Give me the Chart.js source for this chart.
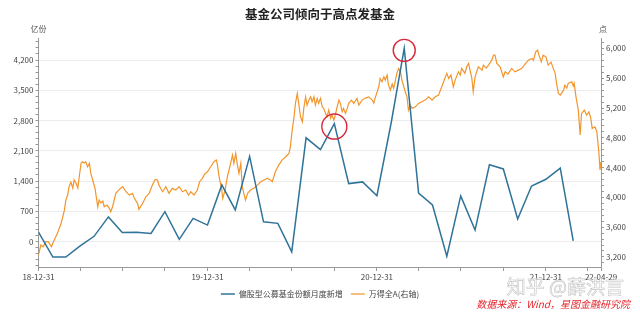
<!DOCTYPE html>
<html lang="zh">
<head>
<meta charset="UTF-8">
<title>基金公司倾向于高点发基金</title>
<style>
  body { margin: 0; background: #ffffff; }
  #wrap { position: relative; width: 640px; height: 314px; }
</style>
</head>
<body>
<div id="wrap"><canvas id="chartCanvas"></canvas></div>

<script src="https://cdn.jsdelivr.net/npm/chart.js@4.4.1/dist/chart.umd.min.js"></script>
<script>
// monthly new shares of equity-biased public funds (亿份), month-end
const blueMonths = [
  '2018-12', '2019-01', '2019-02', '2019-03', '2019-04', '2019-05', '2019-06', '2019-07', '2019-08', '2019-09', '2019-10', '2019-11',
  '2019-12', '2020-01', '2020-02', '2020-03', '2020-04', '2020-05', '2020-06', '2020-07', '2020-08', '2020-09', '2020-10', '2020-11',
  '2020-12', '2021-01', '2021-02', '2021-03', '2021-04', '2021-05', '2021-06', '2021-07', '2021-08', '2021-09', '2021-10', '2021-11',
  '2021-12', '2022-01', '2022-02'
];
const blueVals = [
  220, -360, -360, -100, 120, 570, 210, 215, 185, 690, 50, 535,
  380, 1310, 730, 1970, 455, 420, -240, 2400, 2125, 2730, 1340, 1380,
  1060, 2760, 4470, 1120, 845, -340, 1055, 265, 1775, 1680, 520, 1285,
  1440, 1700, 15
];

// Wind All A index (right axis): days after 2018-12-31 and index level
const orangeDays = [
  0, 5, 10, 16, 21, 28, 34, 41, 49, 56,
  59, 63, 66, 70, 74, 77, 81, 85, 88, 92,
  95, 99, 102, 106, 110, 113, 117, 122, 128, 131,
  135, 139, 142, 148, 153, 156, 160, 167, 173, 178,
  182, 189, 196, 203, 207, 214, 217, 225, 232, 239,
  246, 252, 257, 260, 268, 275, 282, 289, 296, 304,
  311, 318, 324, 329, 336, 343, 348, 354, 359, 365,
  372, 379, 384, 386, 390, 396, 398, 403, 408, 415,
  419, 422, 426, 429, 433, 437, 440, 447, 452, 458,
  465, 473, 480, 487, 494, 501, 505, 512, 519, 526,
  534, 541, 544, 548, 552, 555, 559, 562, 566, 570,
  573, 577, 580, 584, 588, 591, 595, 598, 602, 605,
  609, 613, 616, 620, 623, 627, 631, 634, 638, 641,
  645, 649, 652, 656, 659, 663, 667, 670, 676, 681,
  688, 692, 699, 706, 713, 721, 724, 728, 735, 738,
  742, 746, 749, 753, 756, 760, 764, 767, 771, 774,
  778, 782, 785, 789, 792, 796, 799, 803, 807, 814,
  821, 828, 835, 843, 850, 857, 864, 871, 879, 882,
  886, 891, 896, 900, 907, 911, 914, 921, 925, 929,
  932, 936, 939, 943, 950, 958, 961, 967, 972, 979,
  983, 986, 990, 997, 1004, 1008, 1014, 1022, 1029, 1037,
  1044, 1051, 1058, 1066, 1069, 1074, 1078, 1081, 1086, 1090,
  1096, 1101, 1107, 1112, 1116, 1119, 1123, 1127, 1134, 1137,
  1141, 1144, 1152, 1155, 1157, 1161, 1166, 1170, 1173, 1179,
  1184, 1189, 1193, 1196, 1202, 1206, 1210, 1213, 1215
];
const orangeVals = [
  3226, 3360, 3337, 3405, 3405, 3337, 3427, 3517, 3655, 3830,
  3964, 4031, 4143, 4206, 4125, 4233, 4192, 4125, 4277, 4461,
  4478, 4461, 4478, 4411, 4457, 4322, 4233, 4125, 3874, 3964,
  3924, 3951, 3874, 3897, 3853, 3807, 3874, 4054, 4098, 4125,
  4143, 4076, 4031, 4054, 3987, 3920, 3839, 3920, 4008, 4054,
  4165, 4242, 4233, 4165, 4076, 4143, 4054, 4121, 4098, 4143,
  4076, 4098, 4031, 4076, 4031, 4098, 4210, 4255, 4313, 4344,
  4411, 4478, 4501, 4457, 4277, 4098, 3987, 4098, 4277, 4457,
  4568, 4457, 4591, 4461, 4322, 4457, 4143, 3964, 4058, 4098,
  4121, 4165, 4210, 4233, 4255, 4233, 4210, 4350, 4434, 4501,
  4545, 4591, 4679, 4904, 5082, 5262, 5396, 5262, 5082, 5015,
  5195, 5350, 5239, 5306, 5350, 5283, 5350, 5239, 5329, 5262,
  5329, 5216, 5195, 5128, 5082, 5172, 5061, 5105, 5038, 5105,
  5216, 5306, 5262, 5149, 5195, 5128, 5195, 5262, 5306, 5262,
  5329, 5239, 5306, 5333, 5350, 5306, 5266, 5350, 5485, 5597,
  5552, 5619, 5575, 5642, 5507, 5440, 5521, 5463, 5575, 5665,
  5732, 5682, 5575, 5485, 5418, 5350, 5172, 5239, 5195, 5216,
  5262, 5283, 5306, 5350, 5306, 5350, 5373, 5485, 5619, 5665,
  5597, 5642, 5485, 5575, 5686, 5642, 5732, 5665, 5753, 5799,
  5709, 5601, 5418, 5619, 5753, 5709, 5776, 5736, 5776, 5843,
  5910, 5910, 5799, 5753, 5619, 5686, 5655, 5732, 5686, 5709,
  5732, 5789, 5843, 5866, 5843, 5954, 5977, 5910, 5820, 5910,
  5887, 5776, 5816, 5732, 5665, 5530, 5396, 5373, 5440, 5507,
  5467, 5530, 5552, 5494, 5530, 5350, 5172, 4837, 5128, 5172,
  5105, 5149, 5061, 4926, 4948, 4881, 4635, 4367, 4478
];

// x axis: quarter-end ticks, only some of them labelled
const xTickDates = [
  '2018-12-31', '2019-03-31', '2019-06-30', '2019-09-30', '2019-12-31',
  '2020-03-31', '2020-06-30', '2020-09-30', '2020-12-31', '2021-03-31',
  '2021-06-30', '2021-09-30', '2021-12-31', '2022-03-31', '2022-04-29'
];
const xLabelDates = ['2018-12-31', '2019-12-31', '2020-12-31', '2021-12-31', '2022-04-29'];
const circledMonths = ['2020-09', '2021-02'];

const seriesNames = ['偏股型公募基金份额月度新增', '万得全A(右轴)'];
const FONT = '"Noto Sans CJK SC", "Noto Sans", sans-serif';

const DAY = 86400000;
const START = Date.UTC(2018, 11, 31);
function dayOf(str) {
    const p = str.split('-').map(Number);
    return (Date.UTC(p[0], p[1] - 1, p[2]) - START) / DAY;
}
function monthEndDay(str) {
    const p = str.split('-').map(Number);
    return (Date.UTC(p[0], p[1], 0) - START) / DAY;
}
const xTicks = xTickDates.map(dayOf);
const xLabelDays = xLabelDates.map(dayOf);

const blueData = blueMonths.map((m, i) => ({ x: monthEndDay(m), y: blueVals[i] }));
const orangeData = orangeDays.map((d, i) => ({ x: d, y: orangeVals[i] }));

// fixed legend height so the plot area lines up
const legendFit = {
    id: 'legendFit',
    beforeInit(chart) {
        const fit = chart.legend.fit;
        chart.legend.fit = function () {
            fit.call(this);
            this.height = 32;
        };
    }
};

// title, units, red circles and the notes
const extras = {
    id: 'extras',
    afterDraw(chart) {
        const ctx = chart.ctx;
        const xs = chart.scales.x, ys = chart.scales.y;
        ctx.save();
        ctx.textAlign = 'center';
        ctx.textBaseline = 'middle';
        ctx.fillStyle = '#222';
        ctx.font = 'bold 12.5px ' + FONT;
        ctx.fillText('基金公司倾向于高点发基金', 320, 14);

        ctx.fillStyle = '#555';
        ctx.font = '8px ' + FONT;
        ctx.fillText('亿份', 38.5, 29);
        ctx.fillText('点', 603, 29);

        ctx.strokeStyle = '#d42a3c';
        ctx.lineWidth = 1.4;
        circledMonths.forEach((m, j) => {
            const i = blueMonths.indexOf(m);
            const cx = xs.getPixelForValue(blueData[i].x);
            const cy = ys.getPixelForValue(blueVals[i]);
            ctx.beginPath();
            ctx.arc(cx, cy + (j === 0 ? 3 : 2), j === 0 ? 12.5 : 11, 0, Math.PI * 2);
            ctx.stroke();
        });

        // watermark, hollow grey letters
        ctx.font = '19px ' + FONT;
        ctx.textAlign = 'right';
        ctx.lineWidth = 0.6;
        ctx.strokeStyle = '#c4c4c4';
        ctx.fillStyle = 'rgba(255,255,255,0.7)';
        ctx.fillText('知乎 @薛洪言', 624, 287);
        ctx.strokeText('知乎 @薛洪言', 624, 287);

        ctx.fillStyle = '#e3242b';
        ctx.font = 'italic 10px ' + FONT;
        ctx.fillText('数据来源：Wind，星图金融研究院', 630, 304);
        ctx.restore();
    }
};

const ctx = document.getElementById('chartCanvas').getContext('2d');
new Chart(ctx, {
    type: 'line',
    data: {
        datasets: [
            {
                label: seriesNames[0],
                data: blueData,
                borderColor: '#2f7399',
                backgroundColor: '#2f7399',
                borderWidth: 1.5,
                pointRadius: 0,
                pointStyle: 'line',
                tension: 0,
                yAxisID: 'y'
            },
            {
                label: seriesNames[1],
                data: orangeData,
                borderColor: '#f2952b',
                backgroundColor: '#f2952b',
                borderWidth: 1.2,
                pointRadius: 0,
                pointStyle: 'line',
                tension: 0,
                yAxisID: 'y1'
            }
        ]
    },
    options: {
        responsive: true,
        maintainAspectRatio: false,
        animation: false,
        layout: { padding: { top: 38, left: 0, right: 0, bottom: 0 } },
        plugins: {
            title: { display: false },
            tooltip: { enabled: false },
            legend: {
                position: 'bottom',
                labels: {
                    usePointStyle: true,
                    pointStyleWidth: 14,
                    padding: 8,
                    color: '#444',
                    font: { family: FONT, size: 8 }
                }
            }
        },
        scales: {
            x: {
                type: 'linear',
                min: 0,
                max: xTicks[xTicks.length - 1],
                afterBuildTicks: (s) => { s.ticks = xTicks.map(v => ({ value: v })); },
                afterFit: (s) => { s.height = 15; },
                border: { display: true, color: '#999' },
                grid: { drawOnChartArea: false, drawTicks: true, tickLength: 4, tickColor: '#999' },
                ticks: {
                    autoSkip: false,
                    maxRotation: 0,
                    padding: 1,
                    color: '#444',
                    font: { family: FONT, size: 8 },
                    callback: (v) => {
                        const i = xLabelDays.indexOf(v);
                        return i < 0 ? '' : xLabelDates[i].slice(2);
                    }
                }
            },
            y: {
                position: 'left',
                min: -590,
                max: 4710,
                afterBuildTicks: (s) => {
                    const t = [];
                    for (let v = -560; v <= 4620; v += 140) t.push({ value: v });
                    s.ticks = t;
                },
                afterFit: (s) => { s.width = 38.5; },
                border: { display: true, color: '#999' },
                grid: {
                    color: (c) => (c.tick && c.tick.value % 700 === 0) ? '#ececec' : 'rgba(0,0,0,0)',
                    tickColor: '#999',
                    tickLength: 3
                },
                ticks: {
                    autoSkip: false,
                    padding: 2,
                    color: '#444',
                    font: { family: FONT, size: 8 },
                    callback: (v) => v % 700 === 0 ? v.toLocaleString('en-US') : ''
                }
            },
            y1: {
                position: 'right',
                min: 3065,
                max: 6140,
                afterBuildTicks: (s) => {
                    const t = [];
                    for (let v = 3120; v <= 6120; v += 80) t.push({ value: v });
                    s.ticks = t;
                },
                afterFit: (s) => { s.width = 39; },
                border: { display: true, color: '#999' },
                grid: { drawOnChartArea: false, tickColor: '#999', tickLength: 3 },
                ticks: {
                    autoSkip: false,
                    padding: 2,
                    color: '#444',
                    font: { family: FONT, size: 8 },
                    callback: (v) => v % 400 === 0 ? v.toLocaleString('en-US') : ''
                }
            }
        }
    },
    plugins: [legendFit, extras]
});
</script>
</body>
</html>
